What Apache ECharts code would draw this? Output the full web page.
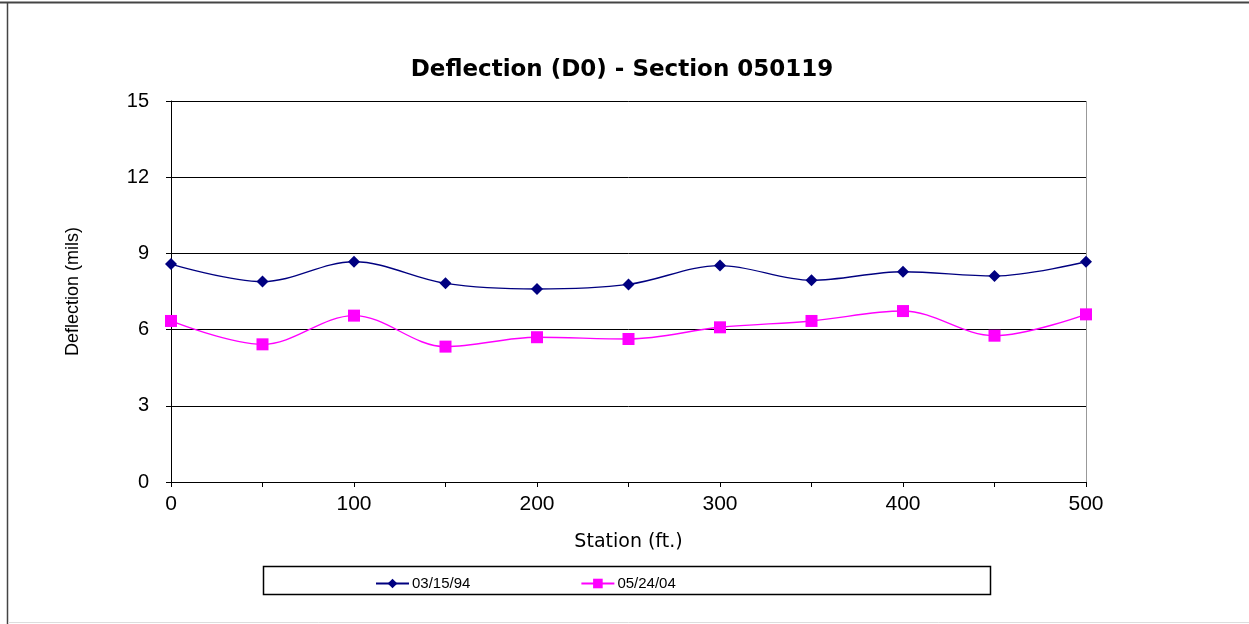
<!DOCTYPE html>
<html><head><meta charset="utf-8">
<script src="https://cdn.jsdelivr.net/npm/echarts@6/dist/echarts.min.js"></script>
<style>html,body{margin:0;padding:0;background:#fff}#c{width:1249px;height:624px}</style>
</head><body><div id="c"></div>
<script>
const stations = [0, 50, 100, 150, 200, 250, 300, 350, 400, 450, 500];
const d940315 = [8.58, 7.89, 8.67, 7.82, 7.60, 7.78, 8.52, 7.94, 8.28, 8.11, 8.67];
const d040524 = [6.34, 5.42, 6.55, 5.33, 5.70, 5.63, 6.09, 6.34, 6.73, 5.76, 6.60];
const seriesNames = ['03/15/94', '05/24/04'];
const titleText = 'Deflection (D0) - Section 050119';
const xName = 'Station (ft.)';
const yName = 'Deflection (mils)';

const font = 'Liberation Sans, Arial, sans-serif';
const chart = echarts.init(document.getElementById('c'), null, {renderer: 'canvas'});
chart.setOption({
  backgroundColor: '#fff',
  animation: false,
  title: {text: titleText, left: 617, textAlign: 'center', top: 54,
    textStyle: {fontFamily: 'DejaVu Sans, sans-serif', fontWeight: 'bold', fontSize: 23, color: '#000'}},
  graphic: [
    {type: 'line', shape: {x1: 0, y1: 2.5, x2: 1249, y2: 2.5}, style: {stroke: '#444', lineWidth: 2}, silent: true},
    {type: 'line', shape: {x1: 7.5, y1: 2, x2: 7.5, y2: 624}, style: {stroke: '#444', lineWidth: 1.5}, silent: true},
    {type: 'line', shape: {x1: 8, y1: 622.5, x2: 1249, y2: 622.5}, style: {stroke: '#ddd', lineWidth: 1}, silent: true},
    {type: 'rect', shape: {x: 263.5, y: 566.5, width: 727, height: 28}, style: {fill: 'none', stroke: '#000', lineWidth: 1.5}, silent: true},
    {type: 'line', shape: {x1: 171, y1: 101.5, x2: 1086, y2: 101.5}, style: {stroke: '#999', lineWidth: 1}, silent: true},
    {type: 'line', shape: {x1: 1086.5, y1: 101, x2: 1086.5, y2: 482}, style: {stroke: '#999', lineWidth: 1}, silent: true}
  ],
  legend: {left: 370, top: 571, itemGap: 110, itemWidth: 33, itemHeight: 12,
    textStyle: {fontFamily: font, fontSize: 15, color: '#000', padding: [0, 0, 0, -2]},
    data: seriesNames},
  grid: {left: 171, right: 163, top: 101, bottom: 142, containLabel: false},
  xAxis: {type: 'value', min: 0, max: 500, interval: 50,
    name: xName, nameLocation: 'middle', nameGap: 51,
    nameTextStyle: {fontFamily: 'DejaVu Sans, sans-serif', fontSize: 19, color: '#000'},
    axisLine: {lineStyle: {color: '#000', width: 1}},
    axisTick: {show: true, inside: false, length: 5, lineStyle: {color: '#000'}},
    axisLabel: {fontFamily: font, fontSize: 21, color: '#000', margin: 12,
      formatter: v => (v % 100 === 0 ? String(v) : '')},
    splitLine: {show: false}},
  yAxis: {type: 'value', min: 0, max: 15, interval: 3,
    name: yName, nameLocation: 'middle', nameGap: 89, nameRotate: 90,
    nameTextStyle: {fontFamily: font, fontSize: 18, color: '#000'},
    axisLine: {show: true, lineStyle: {color: '#000', width: 1}},
    axisTick: {show: true, length: 5, lineStyle: {color: '#000'}},
    axisLabel: {fontFamily: font, fontSize: 20, color: '#000', margin: 22},
    splitLine: {show: true, lineStyle: {color: '#000', width: 1}}},
  series: [
    {name: seriesNames[0], type: 'line', smooth: 0.35, data: stations.map((s, i) => [s, d940315[i]]),
      symbol: 'diamond', symbolSize: 12, color: '#000080',
      lineStyle: {color: '#000080', width: 1.4}, itemStyle: {color: '#000080'}},
    {name: seriesNames[1], type: 'line', smooth: 0.35, data: stations.map((s, i) => [s, d040524[i]]),
      symbol: 'rect', symbolSize: 12, color: '#ff00ff',
      lineStyle: {color: '#ff00ff', width: 1.4}, itemStyle: {color: '#ff00ff'}}
  ]
});
</script></body></html>
